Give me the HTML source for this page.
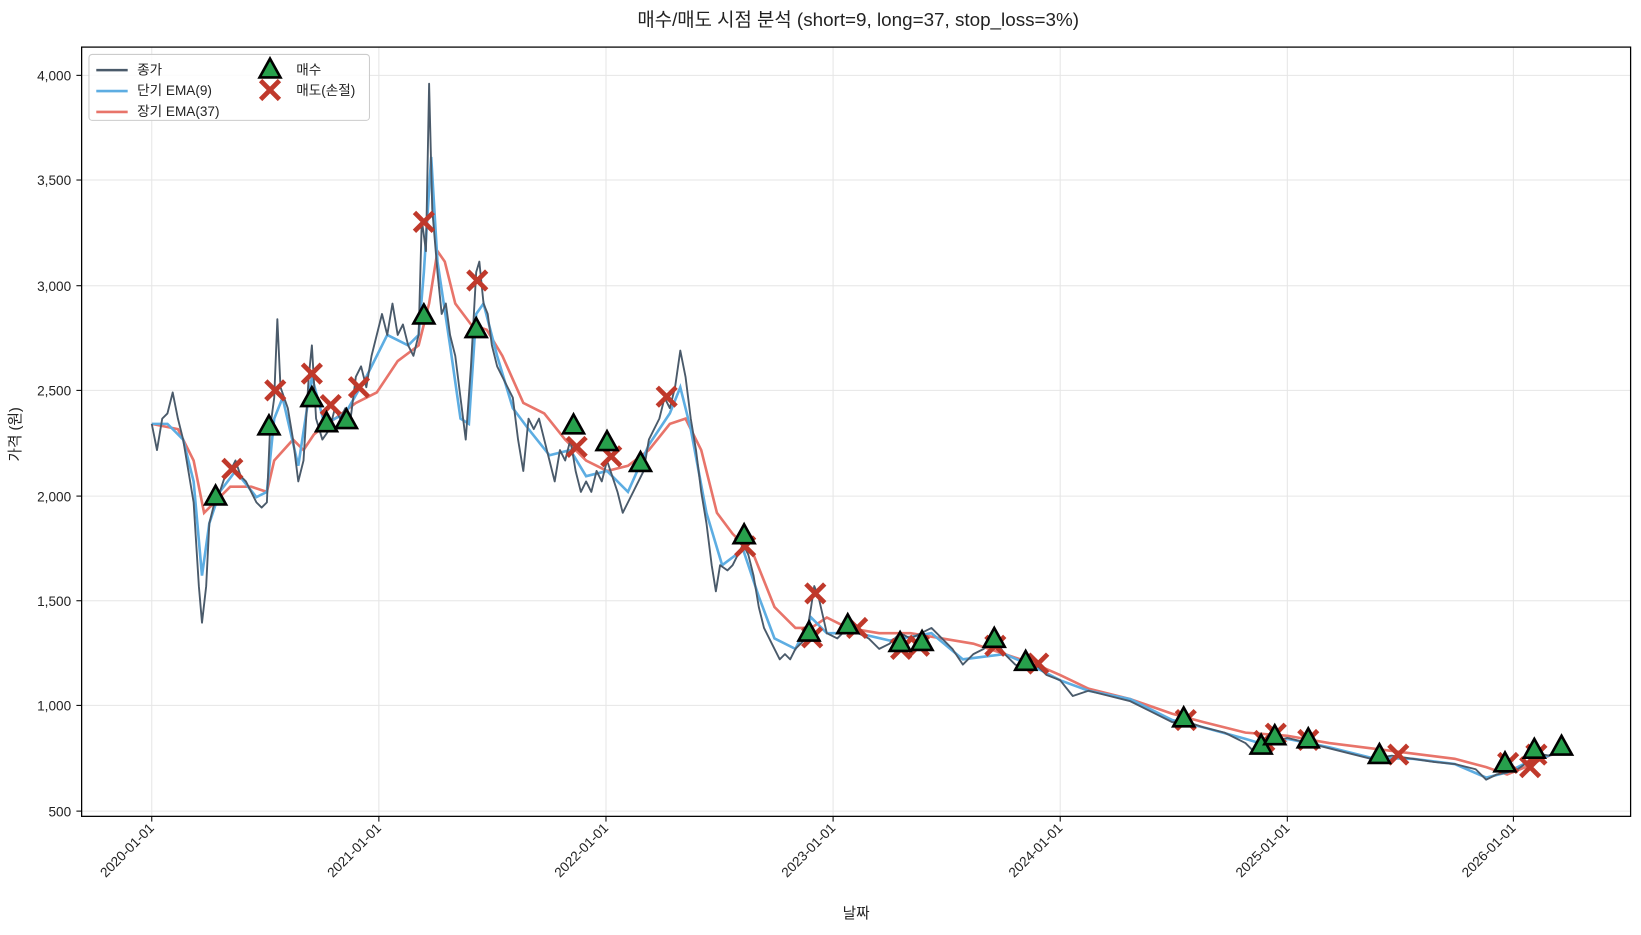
<!DOCTYPE html><html><head><meta charset="utf-8"><style>body{margin:0;background:#fff;overflow:hidden}text{font-family:"Liberation Sans","Noto Sans CJK KR",sans-serif;fill:#222}</style></head><body>
<svg width="1641" height="930" xmlns="http://www.w3.org/2000/svg">
<defs><g id="b"><polygon points="0,-10 10,8 -10,8" fill="#27a04c" stroke="#000" stroke-width="2.5"/></g>
<g id="s"><path d="M-9,-9L9,9M9,-9L-9,9" stroke="#c0392b" stroke-width="4.5"/></g></defs>
<g transform="scale(1.0466)">
<text x="820" y="25" text-anchor="middle" font-size="18">매수/매도 시점 분석 (short=9, long=37, stop_loss=3%)</text>
<g stroke="#e6e6e6" stroke-width="1">
<line x1="145" y1="45" x2="145" y2="780"/><line x1="362" y1="45" x2="362" y2="780"/><line x1="579" y1="45" x2="579" y2="780"/><line x1="796" y1="45" x2="796" y2="780"/><line x1="1013" y1="45" x2="1013" y2="780"/><line x1="1230" y1="45" x2="1230" y2="780"/><line x1="1446" y1="45" x2="1446" y2="780"/>
<line x1="78" y1="72" x2="1558" y2="72"/><line x1="78" y1="172" x2="1558" y2="172"/><line x1="78" y1="273" x2="1558" y2="273"/><line x1="78" y1="373" x2="1558" y2="373"/><line x1="78" y1="474" x2="1558" y2="474"/><line x1="78" y1="574" x2="1558" y2="574"/><line x1="78" y1="674" x2="1558" y2="674"/><line x1="78" y1="775" x2="1558" y2="775"/>
</g>
<g stroke="#000" stroke-width="1">
<line x1="145" y1="780" x2="145" y2="785"/><line x1="362" y1="780" x2="362" y2="785"/><line x1="579" y1="780" x2="579" y2="785"/><line x1="796" y1="780" x2="796" y2="785"/><line x1="1013" y1="780" x2="1013" y2="785"/><line x1="1230" y1="780" x2="1230" y2="785"/><line x1="1446" y1="780" x2="1446" y2="785"/>
<line x1="73" y1="72" x2="78" y2="72"/><line x1="73" y1="172" x2="78" y2="172"/><line x1="73" y1="273" x2="78" y2="273"/><line x1="73" y1="373" x2="78" y2="373"/><line x1="73" y1="474" x2="78" y2="474"/><line x1="73" y1="574" x2="78" y2="574"/><line x1="73" y1="674" x2="78" y2="674"/><line x1="73" y1="775" x2="78" y2="775"/>
</g>
<g font-size="13" text-anchor="end">
<text x="68" y="77">4,000</text><text x="68" y="177">3,500</text><text x="68" y="278">3,000</text><text x="68" y="378">2,500</text><text x="68" y="479">2,000</text><text x="68" y="579">1,500</text><text x="68" y="679">1,000</text><text x="68" y="780">500</text>
</g>
<g font-size="13" text-anchor="end">
<text transform="translate(148,792) rotate(-45)">2020-01-01</text><text transform="translate(365,792) rotate(-45)">2021-01-01</text><text transform="translate(582,792) rotate(-45)">2022-01-01</text><text transform="translate(799,792) rotate(-45)">2023-01-01</text><text transform="translate(1016,792) rotate(-45)">2024-01-01</text><text transform="translate(1233,792) rotate(-45)">2025-01-01</text><text transform="translate(1449,792) rotate(-45)">2026-01-01</text>
</g>
<text x="818" y="877" text-anchor="middle" font-size="14">날짜</text>
<text transform="translate(19,415) rotate(-90)" text-anchor="middle" font-size="14">가격 (원)</text>
<polyline fill="none" stroke="#e8746a" stroke-width="2.5" points="145,405 170,410 185,440 195,490 205,480 220,465 240,465 255,470 262,440 280,420 290,430 300,415 320,400 340,385 360,375 380,345 400,330 410,290 418,240 425,250 435,290 450,310 465,315 480,340 500,385 520,395 540,420 560,440 580,450 600,445 620,430 640,405 655,400 670,430 685,490 700,510 720,530 740,580 760,600 775,600 790,590 810,600 840,605 870,605 900,610 930,615 960,625 990,635 1013,645 1040,658 1080,668 1120,682 1150,690 1190,700 1230,703 1270,710 1310,715 1350,720 1390,725 1420,733 1440,740 1460,732 1480,722 1492,718"/>
<polyline fill="none" stroke="#5dade2" stroke-width="2.5" points="145,405 160,405 175,420 185,460 193,550 200,500 210,470 225,450 245,475 255,470 262,400 270,380 285,445 298,360 310,405 330,395 350,360 370,320 390,330 400,320 405,260 412,150 418,250 430,330 440,400 448,405 455,300 462,290 475,340 490,390 505,410 525,435 545,430 560,455 580,450 600,470 620,425 640,395 650,370 660,410 675,490 690,540 710,525 725,570 740,610 760,620 775,590 790,605 820,605 850,612 890,605 920,630 960,625 990,638 1013,650 1040,660 1080,668 1120,688 1150,695 1190,706 1210,712 1230,706 1270,714 1310,724 1350,725 1390,730 1420,743 1440,738 1460,728 1480,722 1492,716"/>
<polyline fill="none" stroke="#4a5a6a" stroke-width="1.8" stroke-linejoin="round" points="145,405 150,430 155,400 160,395 165,375 170,400 175,420 180,450 185,480 190,560 193,595 197,560 200,500 205,480 210,470 215,455 220,450 225,440 230,455 235,460 240,470 245,480 250,485 255,480 258,410 262,380 265,305 268,370 275,390 280,420 285,460 290,440 295,360 298,330 302,400 308,420 315,410 320,390 325,400 330,390 335,400 340,360 345,350 350,370 355,340 360,320 365,300 370,320 375,290 380,320 385,310 390,330 395,340 400,320 403,210 407,240 410,80 413,200 418,260 422,300 426,290 430,320 435,340 440,380 445,420 450,350 455,260 458,250 462,290 466,300 470,330 475,350 480,360 485,370 490,380 495,420 500,450 505,400 510,410 515,400 520,420 525,440 530,460 535,430 540,440 545,420 550,450 555,470 560,460 565,470 570,450 575,460 580,440 585,455 590,470 595,490 600,480 605,470 610,460 615,450 620,420 625,410 630,400 635,380 640,390 645,370 650,335 655,360 660,400 665,430 670,470 675,500 680,540 684,565 688,540 695,545 700,540 705,530 710,520 715,530 720,550 725,580 730,600 735,610 740,620 745,630 750,625 755,630 760,620 765,615 770,610 775,580 778,560 782,570 790,605 800,610 810,600 820,605 830,610 840,620 850,615 860,605 870,610 880,605 890,600 900,610 910,620 920,635 930,625 940,620 950,610 960,625 970,635 980,640 990,635 1000,645 1013,650 1025,665 1040,660 1060,665 1080,670 1100,680 1120,690 1135,690 1150,695 1170,700 1190,710 1200,720 1210,710 1230,705 1250,710 1270,715 1290,720 1310,725 1330,722 1350,725 1370,728 1390,730 1410,735 1420,745 1430,740 1440,738 1450,735 1460,728 1470,720 1480,722 1492,715"/>
<g>
<use href="#s" x="222" y="448"/><use href="#s" x="263" y="373"/><use href="#s" x="298" y="357"/><use href="#s" x="316" y="387"/><use href="#s" x="343" y="370"/><use href="#s" x="405" y="212"/><use href="#s" x="456" y="268"/><use href="#s" x="551" y="427"/><use href="#s" x="584" y="436"/><use href="#s" x="637" y="379"/><use href="#s" x="712" y="522"/><use href="#s" x="779" y="567"/><use href="#s" x="776" y="609"/><use href="#s" x="819" y="600"/><use href="#s" x="861" y="620"/><use href="#s" x="878" y="617"/><use href="#s" x="951" y="617"/><use href="#s" x="992" y="634"/><use href="#s" x="1133" y="688"/><use href="#s" x="1208" y="708"/><use href="#s" x="1219" y="701"/><use href="#s" x="1250" y="707"/><use href="#s" x="1336" y="721"/><use href="#s" x="1441" y="729"/><use href="#s" x="1462" y="733"/><use href="#s" x="1468" y="721"/>
<use href="#b" x="206" y="474"/><use href="#b" x="257" y="407"/><use href="#b" x="298" y="380"/><use href="#b" x="312" y="404"/><use href="#b" x="331" y="401"/><use href="#b" x="405" y="301"/><use href="#b" x="455" y="314"/><use href="#b" x="548" y="406"/><use href="#b" x="580" y="422"/><use href="#b" x="612" y="442"/><use href="#b" x="711" y="511"/><use href="#b" x="773" y="604"/><use href="#b" x="810" y="597"/><use href="#b" x="860" y="614"/><use href="#b" x="881" y="613"/><use href="#b" x="950" y="610"/><use href="#b" x="980" y="632"/><use href="#b" x="1131" y="686"/><use href="#b" x="1205" y="712"/><use href="#b" x="1218" y="703"/><use href="#b" x="1250" y="706"/><use href="#b" x="1318" y="721"/><use href="#b" x="1438" y="729"/><use href="#b" x="1466" y="716"/><use href="#b" x="1492" y="713"/>
</g>
<rect x="78" y="45" width="1480" height="735" fill="none" stroke="#000" stroke-width="1.2"/>
<rect x="85" y="52" width="268" height="63" rx="3" fill="#fff" fill-opacity="0.85" stroke="#ccc"/>
<g stroke-width="2.5"><line x1="92" y1="67" x2="122" y2="67" stroke="#4a5a6a"/><line x1="92" y1="87" x2="122" y2="87" stroke="#5dade2"/><line x1="92" y1="107" x2="122" y2="107" stroke="#e8746a"/></g>
<g font-size="13"><text x="131" y="71">종가</text><text x="131" y="91">단기 EMA(9)</text><text x="131" y="111">장기 EMA(37)</text><text x="283" y="71">매수</text><text x="283" y="91">매도(손절)</text></g>
<use href="#b" x="258" y="66"/><use href="#s" x="258" y="86"/>
</g>
</svg></body></html>
